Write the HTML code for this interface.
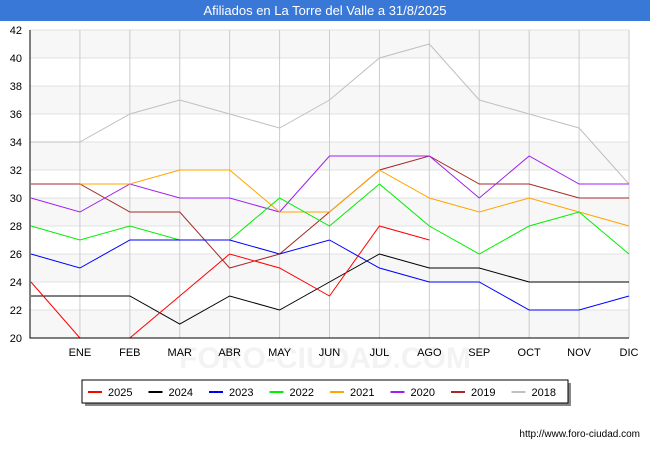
<!DOCTYPE html>
<html><head><meta charset="utf-8"><style>
body{margin:0;width:650px;height:450px;background:#fff;font-family:"Liberation Sans",sans-serif;overflow:hidden}
</style></head><body>
<svg width="650" height="450" xmlns="http://www.w3.org/2000/svg" id="chart">
<rect x="0" y="0" width="650" height="21" fill="#3a78d8"/>
<text x="325" y="15" text-anchor="middle" fill="#fff" font-size="13">Afiliados en La Torre del Valle a 31/8/2025</text>
<g id="grid"></g>
<text x="325" y="368" text-anchor="middle" fill="#f3f3f3" font-size="30" font-weight="bold">FORO-CIUDAD.COM</text>
<g id="series"></g><g id="axes"></g>
<rect x="85" y="383" width="486" height="23" fill="#888"/>
<rect x="82" y="380" width="486" height="23" fill="#fff" stroke="#000" stroke-width="1"/>
<g id="legend"></g>
<text x="640" y="437" text-anchor="end" font-size="10" fill="#000">http://www.foro-ciudad.com</text>
</svg>
<script>
const categories=["","ENE","FEB","MAR","ABR","MAY","JUN","JUL","AGO","SEP","OCT","NOV","DIC"];
const yTicks=[20,22,24,26,28,30,32,34,36,38,40,42];
const seriesNames=["2025","2024","2023","2022","2021","2020","2019","2018"];
const seriesColors=["#ff0000","#000000","#0000ff","#00ee00","#ffa500","#a020f0","#a52a2a","#c0c0c0"];
const s2025=[24,20,20,23,26,25,23,28,27,null,null,null,null];
const s2024=[23,23,23,21,23,22,24,26,25,25,24,24,24];
const s2023=[26,25,27,27,27,26,27,25,24,24,22,22,23];
const s2022=[28,27,28,27,27,30,28,31,28,26,28,29,26];
const s2021=[null,31,31,32,32,29,29,32,30,29,30,29,28];
const s2020=[30,29,31,30,30,29,33,33,33,30,33,31,31];
const s2019=[31,31,29,29,25,26,29,32,33,31,31,30,30];
const s2018=[34,34,36,37,36,35,37,40,41,37,36,35,31];
const NS="http://www.w3.org/2000/svg";
const X0=30,X1=629,Y0=338,Y1=30;
const xs=i=>X0+i*(X1-X0)/(categories.length-1);
const ys=v=>Y0-(v-20)*(Y0-Y1)/22;
function mk(t,a,p){const e=document.createElementNS(NS,t);for(const k in a)e.setAttribute(k,a[k]);p.appendChild(e);return e;}
const grid=document.getElementById('grid'),axes=document.getElementById('axes'),ser=document.getElementById('series'),leg=document.getElementById('legend');
for(let i=0;i<yTicks.length-1;i++){if(i%2==0){const r=mk('rect',{x:X0,y:ys(yTicks[i+1]),width:X1-X0,height:ys(yTicks[i])-ys(yTicks[i+1]),fill:'#f7f7f7'},grid);

}}
yTicks.forEach(v=>{const l=mk('line',{x1:X0,x2:X1,y1:ys(v),y2:ys(v),stroke:'#e0e0e0'},grid);


const t=mk('text',{x:22,y:ys(v)+4,'text-anchor':'end','font-size':11},axes);t.textContent=v;

});
categories.forEach((c,i)=>{if(i>0){const l=mk('line',{x1:xs(i),x2:xs(i),y1:Y1,y2:Y0,stroke:'#cccccc'},grid);

}
const t=mk('text',{x:xs(i),y:356,'text-anchor':'middle','font-size':11},axes);t.textContent=c;

});
const ax=mk('path',{d:`M${X0},${Y1}V${Y0}H${X1}`,fill:'none',stroke:'#000','stroke-width':1},axes);


const byName=[s2025,s2024,s2023,s2022,s2021,s2020,s2019,s2018];
[7,6,5,4,3,2,1,0].forEach(k=>{const d=byName[k];let p='',pen=false;d.forEach((v,i)=>{if(v==null){pen=false;return;}p+=(pen?'L':'M')+(xs(i)+(i==0?1:0))+','+ys(v);pen=true;});
const e=mk('path',{d:p,fill:'none',stroke:seriesColors[k],'stroke-width':1},ser);

});
seriesNames.forEach((n,k)=>{const x=88+k*60.5;const l=mk('line',{x1:x,x2:x+14,y1:392,y2:392,stroke:seriesColors[k],'stroke-width':2},leg);


const t=mk('text',{x:x+20,y:396,'font-size':11},leg);t.textContent=n;

});
</script>
</body></html>
